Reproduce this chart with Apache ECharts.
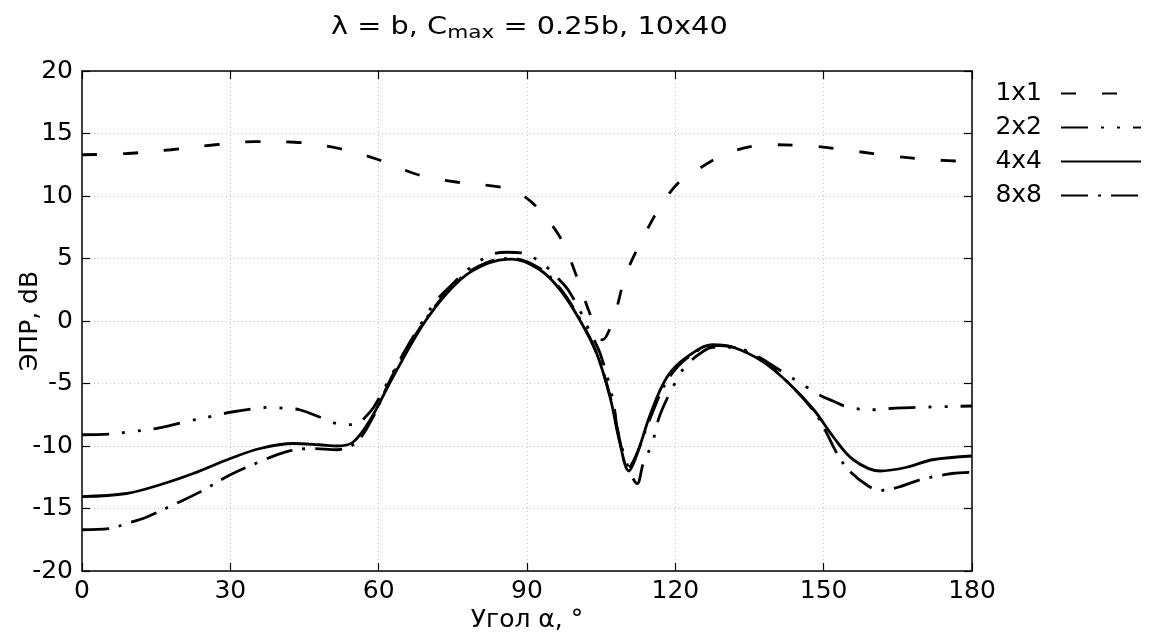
<!DOCTYPE html>
<html>
<head>
<meta charset="utf-8">
<script src="https://cdn.jsdelivr.net/npm/echarts@6/dist/echarts.min.js"></script>
<style>html,body{margin:0;padding:0;background:#fff}#c{width:1158px;height:633px}</style>
</head>
<body>
<div id="c"></div>
<script>
// ---- data (angle in degrees, RCS in dB) ----
const seriesNames = ['1x1', '2x2', '4x4', '8x8'];
const xTicks = [0, 30, 60, 90, 120, 150, 180];
const yTicks = [-20, -15, -10, -5, 0, 5, 10, 15, 20];

const ang1x1 = [0, 9, 18, 27, 35, 43, 52, 60, 68, 76, 84, 88, 92, 97, 100, 103, 105.3, 107.5, 110, 113.5, 117.5, 121, 124, 131, 139, 147.5, 156, 164, 172, 180];
const db1x1  = [13.3, 13.4, 13.7, 14.1, 14.35, 14.3, 13.8, 12.9, 11.7, 11.1, 10.75, 10.3, 9.1, 6.5, 3.6, 0.3, -1.5, 0.2, 3.7, 6.7, 9.5, 11.2, 12.0, 13.5, 14.1, 14.0, 13.6, 13.2, 12.9, 12.75];

const ang2x2 = [0, 5.7, 9, 15, 20.5, 26.5, 30, 35, 38, 41.4, 44, 49.5, 52.6, 55.6, 57.5, 59, 61, 65, 69.8, 71.8, 74, 78, 80, 83, 86, 89, 94, 96.3, 98.3, 101, 102.4, 103.8, 104.8, 106.8, 107.8, 108.2, 110.2, 112.3, 113.5, 115.3, 117, 121, 122.6, 125, 127.6, 131.7, 136.5, 139, 141.8, 146.6, 149, 151.9, 155, 160.4, 163.5, 166, 169.5, 180];
const db2x2  = [-9.1, -9.05, -8.9, -8.6, -8.1, -7.6, -7.3, -7.0, -6.9, -7.0, -7.1, -7.9, -8.3, -8.25, -7.6, -6.9, -5.5, -2.6, 0.56, 1.7, 2.6, 4.1, 4.7, 5.35, 5.5, 5.45, 4.3, 3.4, 2.5, 0.6, -0.6, -1.7, -2.6, -5.3, -7.3, -8.5, -11.4, -13.0, -11.4, -9.8, -7.4, -4.2, -3.4, -2.6, -2.1, -2.1, -2.8, -3.4, -4.1, -5.3, -5.9, -6.4, -6.9, -7.1, -7.0, -6.95, -6.9, -6.8];

const ang4x4 = [0, 9, 15.8, 22.5, 30, 36, 42.7, 48, 51.6, 54.8, 58.3, 63, 69.8, 76.5, 82, 87, 92.6, 96.7, 100.5, 104, 106.8, 108.8, 110.6, 112.3, 115, 118.3, 122.3, 127.6, 131.7, 137.7, 143, 148, 152, 156, 161.4, 166.8, 172, 180];
const db4x4  = [-14.05, -13.8, -13.1, -12.2, -11.0, -10.2, -9.8, -9.9, -10.0, -9.7, -7.9, -4.4, 0.2, 3.3, 4.6, 4.95, 4.1, 2.5, 0.2, -2.5, -6.1, -9.8, -12.0, -10.6, -7.4, -4.5, -2.9, -1.9, -2.1, -3.25, -5.0, -7.1, -9.3, -11.1, -12.0, -11.7, -11.1, -10.8];

const ang8x8 = [0, 5.7, 9, 13, 19, 24, 30, 36, 41.4, 46.7, 51.6, 55.6, 58.9, 63, 69.8, 76.5, 82, 87, 92.6, 96.7, 100.5, 104, 106.8, 108.8, 110.4, 112, 115, 118.3, 122.3, 127.6, 131.7, 137.7, 143, 148, 150, 152.7, 155, 159, 161.5, 165, 169.5, 173, 176, 180];
const db8x8  = [-16.7, -16.6, -16.2, -15.7, -14.6, -13.65, -12.3, -11.25, -10.45, -10.2, -10.3, -9.65, -7.65, -4.2, 0.3, 3.4, 4.7, 5.0, 4.2, 2.6, 0.3, -2.5, -6.0, -9.6, -11.8, -10.8, -7.7, -4.8, -3.0, -1.95, -2.1, -3.2, -5.0, -7.2, -8.5, -10.6, -11.9, -13.2, -13.55, -13.3, -12.7, -12.4, -12.2, -12.1];

const pair = (a, b) => a.map((x, i) => [x, b[i]]);
const FONT = 'DejaVu Sans';
const dashes = {
  '1x1': [15, 26],
  '2x2': [27, 13, 3, 13, 3, 13],
  '4x4': 'solid',
  '8x8': [27, 10, 3, 10]
};
const dataMap = {
  '1x1': pair(ang1x1, db1x1),
  '2x2': pair(ang2x2, db2x2),
  '4x4': pair(ang4x4, db4x4),
  '8x8': pair(ang8x8, db8x8)
};

const chart = echarts.init(document.getElementById('c'), null, {renderer: 'canvas'});

const baseAxis = {
  axisLine: {show: true, onZero: false, lineStyle: {color: '#000', width: 1.5}},
  axisTick: {show: true, inside: true, length: 8, lineStyle: {color: '#000', width: 1.2}},
};

chart.setOption({
  animation: false,
  backgroundColor: '#fff',
  textStyle: {fontFamily: FONT},
  graphic: [{
    type: 'text',
    x: 331,
    y: 14,
    scaleX: 1.2,
    style: {
      text: '{a|λ = b, C}{s|max}{a| = 0.25b, 10x40}',
      rich: {
        a: {fontFamily: FONT, fontSize: 24, lineHeight: 28, verticalAlign: 'middle', fill: '#000'},
        s: {fontFamily: FONT, fontSize: 18, lineHeight: 14, verticalAlign: 'bottom', fill: '#000'}
      }
    }
  }],
  grid: {left: 82, right: 186, top: 71, bottom: 62, containLabel: false, outerBoundsMode: 'none'},
  legend: {
    orient: 'vertical',
    right: 11,
    top: 76,
    align: 'right',
    itemWidth: 80,
    itemHeight: 14,
    itemGap: 9,
    data: seriesNames,
    itemStyle: {color: 'transparent', borderWidth: 0, opacity: 0},
    textStyle: {fontFamily: FONT, fontSize: 25, color: '#000', lineHeight: 25, padding: [0, 14, 0, 0]}
  },
  xAxis: [
    Object.assign({}, baseAxis, {
      type: 'value', min: 0, max: 180, interval: 30, position: 'bottom',
      name: 'Угол α, °', nameLocation: 'middle', nameGap: 37, nameMoveOverlap: false,
      nameTextStyle: {fontFamily: FONT, fontSize: 25, color: '#000'},
      axisLabel: {fontFamily: FONT, fontSize: 25, color: '#000', margin: 8,
        formatter: v => xTicks.includes(v) ? String(v) : ''},
      splitLine: {show: true, lineStyle: {type: [1, 3], color: '#c4c4c4', width: 1}}
    }),
    Object.assign({}, baseAxis, {
      type: 'value', min: 0, max: 180, interval: 30, position: 'top',
      axisLabel: {show: false}, splitLine: {show: false}
    })
  ],
  yAxis: [
    Object.assign({}, baseAxis, {
      type: 'value', min: -20, max: 20, interval: 5, position: 'left',
      name: 'ЭПР, dB', nameLocation: 'middle', nameGap: 39, nameRotate: 90, nameMoveOverlap: false,
      nameTextStyle: {fontFamily: FONT, fontSize: 25, color: '#000'},
      axisLabel: {fontFamily: FONT, fontSize: 25, color: '#000', margin: 9,
        formatter: v => yTicks.includes(v) ? String(v) : ''},
      splitLine: {show: true, lineStyle: {type: [1, 3], color: '#c4c4c4', width: 1}}
    }),
    Object.assign({}, baseAxis, {
      type: 'value', min: -20, max: 20, interval: 5, position: 'right',
      axisLabel: {show: false}, splitLine: {show: false}
    })
  ],
  series: seriesNames.map(n => ({
    name: n,
    type: 'line',
    xAxisIndex: 0,
    yAxisIndex: 0,
    data: dataMap[n],
    smooth: 0.35,
    symbol: 'none',
    color: '#000',
    lineStyle: {color: '#000', width: 2.8, type: dashes[n], cap: 'butt'}
  }))
});
</script>
</body>
</html>
